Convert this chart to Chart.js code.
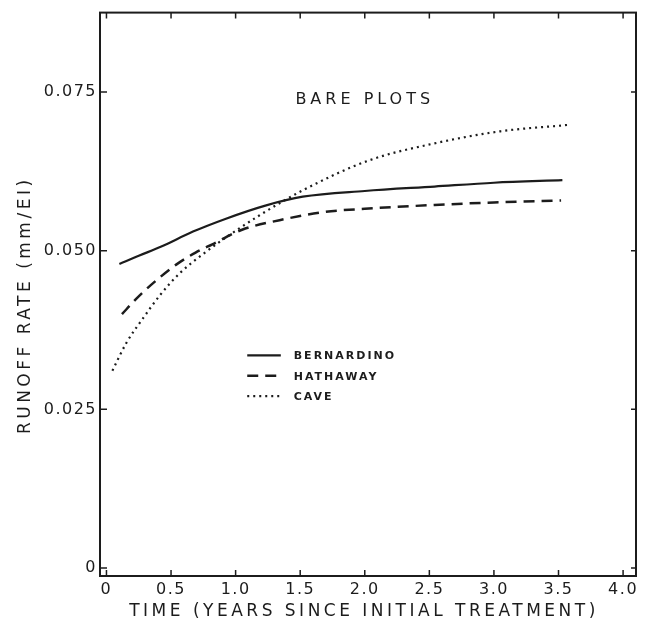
<!DOCTYPE html>
<html>
<head>
<meta charset="utf-8">
<script src="https://cdn.jsdelivr.net/npm/chart.js@4.4.1/dist/chart.umd.min.js"></script>
<style>
  html, body { margin: 0; padding: 0; background: #fff; }
  #wrap { width: 648px; height: 628px; }
</style>
</head>
<body>
<div id="wrap"><canvas id="runoff-chart"></canvas></div>
<script>
// values
const seriesNames = ['BERNARDINO', 'HATHAWAY', 'CAVE'];

const bernardinoYears = [0.10, 0.25, 0.42, 0.67, 0.92, 1.23, 1.52, 2.00, 2.54, 3.00, 3.53];
const bernardinoRate  = [0.0479, 0.0492, 0.0506, 0.0530, 0.0550, 0.0571, 0.0585, 0.0594, 0.0601, 0.0607, 0.0611];

const hathawayYears = [0.12, 0.23, 0.385, 0.54, 0.69, 0.82, 1.05, 1.34, 1.69, 2.00, 2.54, 3.00, 3.52];
const hathawayRate  = [0.0400, 0.0424, 0.0453, 0.0478, 0.0497, 0.0510, 0.0533, 0.0548, 0.0561, 0.0566, 0.0572, 0.0576, 0.0579];

const caveYears = [0.046, 0.155, 0.285, 0.415, 0.57, 0.75, 0.92, 1.18, 1.52, 2.03, 2.54, 3.05, 3.57];
const caveRate  = [0.0311, 0.0355, 0.0394, 0.0430, 0.0465, 0.0495, 0.0520, 0.0555, 0.0595, 0.0642, 0.0669, 0.0688, 0.0698];

const xTickValues = [0, 0.5, 1.0, 1.5, 2.0, 2.5, 3.0, 3.5, 4.0];
const xTickLabels = ['0', '0.5', '1.0', '1.5', '2.0', '2.5', '3.0', '3.5', '4.0'];
const yTickValues = [0, 0.025, 0.05, 0.075];
const yTickLabels = ['0', '0.025', '0.050', '0.075'];

const xTitle = 'TIME (YEARS SINCE INITIAL TREATMENT)';
const yTitle = 'RUNOFF RATE (mm/EI)';
const panelLabel = 'BARE PLOTS';

const INK = '#1c1c1c';
const FONT = '"DejaVu Sans", sans-serif';

function toPoints(xs, ys) {
    return xs.map((x, i) => ({ x: x, y: ys[i] }));
}

const lineStyles = [
    { dash: [], width: 2.2 },
    { dash: [11, 7], width: 2.5 },
    { dash: [2, 4], width: 2.2 }
];

const datasets = [
    toPoints(bernardinoYears, bernardinoRate),
    toPoints(hathawayYears, hathawayRate),
    toPoints(caveYears, caveRate)
].map((pts, i) => ({
    label: seriesNames[i],
    data: pts,
    borderColor: INK,
    borderWidth: lineStyles[i].width,
    borderDash: lineStyles[i].dash,
    pointRadius: 0,
    fill: false,
    cubicInterpolationMode: 'monotone'
}));

// frame, inward ticks, axis titles, legend and the panel label
const decorPlugin = {
    id: 'decor',
    beforeDraw(chart) {
        chart.ctx.letterSpacing = '1.5px';
    },
    afterDraw(chart) {
        const ctx = chart.ctx;
        const a = chart.chartArea;
        const xs = chart.scales.x;
        const ys = chart.scales.y;
        ctx.save();
        ctx.strokeStyle = INK;
        ctx.lineWidth = 2;
        ctx.setLineDash([]);
        ctx.strokeRect(a.left, a.top, a.width, a.height);

        ctx.lineWidth = 1.5;
        ctx.beginPath();
        xs.ticks.forEach(t => {
            const px = xs.getPixelForValue(t.value);
            ctx.moveTo(px, a.bottom); ctx.lineTo(px, a.bottom - 6);
            ctx.moveTo(px, a.top); ctx.lineTo(px, a.top + 6);
        });
        ys.ticks.forEach(t => {
            const py = ys.getPixelForValue(t.value);
            ctx.moveTo(a.left, py); ctx.lineTo(a.left + 7, py);
            ctx.moveTo(a.right, py); ctx.lineTo(a.right - 5, py);
        });
        ctx.stroke();

        ctx.fillStyle = INK;
        ctx.textAlign = 'center';
        ctx.textBaseline = 'middle';

        // axis titles
        ctx.letterSpacing = '3.5px';
        ctx.font = '17px ' + FONT;
        ctx.fillText(xTitle, (a.left + a.right) / 2 - 4, a.bottom + 36);
        ctx.save();
        ctx.translate(26, (a.top + a.bottom) / 2 + 11);
        ctx.rotate(-Math.PI / 2);
        ctx.fillText(yTitle, 0, 0);
        ctx.restore();

        // panel label
        ctx.letterSpacing = '4px';
        ctx.font = '16px ' + FONT;
        ctx.fillText(panelLabel, xs.getPixelForValue(2.0), ys.getPixelForValue(0.0738));

        // legend
        const legendY = [0.0335, 0.0303, 0.0271];
        ctx.letterSpacing = '2px';
        ctx.font = 'bold 11px ' + FONT;
        ctx.textAlign = 'left';
        chart.data.datasets.forEach((ds, i) => {
            const py = ys.getPixelForValue(legendY[i]);
            ctx.beginPath();
            ctx.setLineDash(ds.borderDash);
            ctx.lineWidth = ds.borderWidth;
            ctx.moveTo(xs.getPixelForValue(1.09), py);
            ctx.lineTo(xs.getPixelForValue(1.35), py);
            ctx.stroke();
            ctx.fillText(ds.label, xs.getPixelForValue(1.45), py + 1);
        });
        ctx.restore();
    }
};

const ctx = document.getElementById('runoff-chart').getContext('2d');
new Chart(ctx, {
    type: 'line',
    data: { datasets: datasets },
    options: {
        responsive: true,
        maintainAspectRatio: false,
        animation: false,
        layout: { padding: { top: 7, right: 12, left: 0, bottom: 0 } },
        plugins: {
            legend: { display: false },
            tooltip: { enabled: false }
        },
        scales: {
            x: {
                type: 'linear',
                min: -0.05,
                max: 4.1,
                grid: { display: false, drawTicks: false },
                border: { display: false },
                afterBuildTicks: scale => {
                    scale.ticks = xTickValues.map(v => ({ value: v }));
                },
                afterFit: scale => { scale.height = 52; },
                ticks: {
                    color: INK,
                    padding: 4,
                    maxRotation: 0,
                    autoSkip: false,
                    font: { family: FONT, size: 16 },
                    callback: v => xTickLabels[xTickValues.indexOf(v)]
                }
            },
            y: {
                min: -0.00125,
                max: 0.0875,
                grid: { display: false, drawTicks: false },
                border: { display: false },
                afterBuildTicks: scale => {
                    scale.ticks = yTickValues.map(v => ({ value: v }));
                },
                afterFit: scale => { scale.width = 100; },
                ticks: {
                    color: INK,
                    padding: 3,
                    autoSkip: false,
                    font: { family: FONT, size: 16 },
                    callback: v => yTickLabels[yTickValues.indexOf(v)]
                }
            }
        }
    },
    plugins: [decorPlugin]
});
</script>
</body>
</html>
